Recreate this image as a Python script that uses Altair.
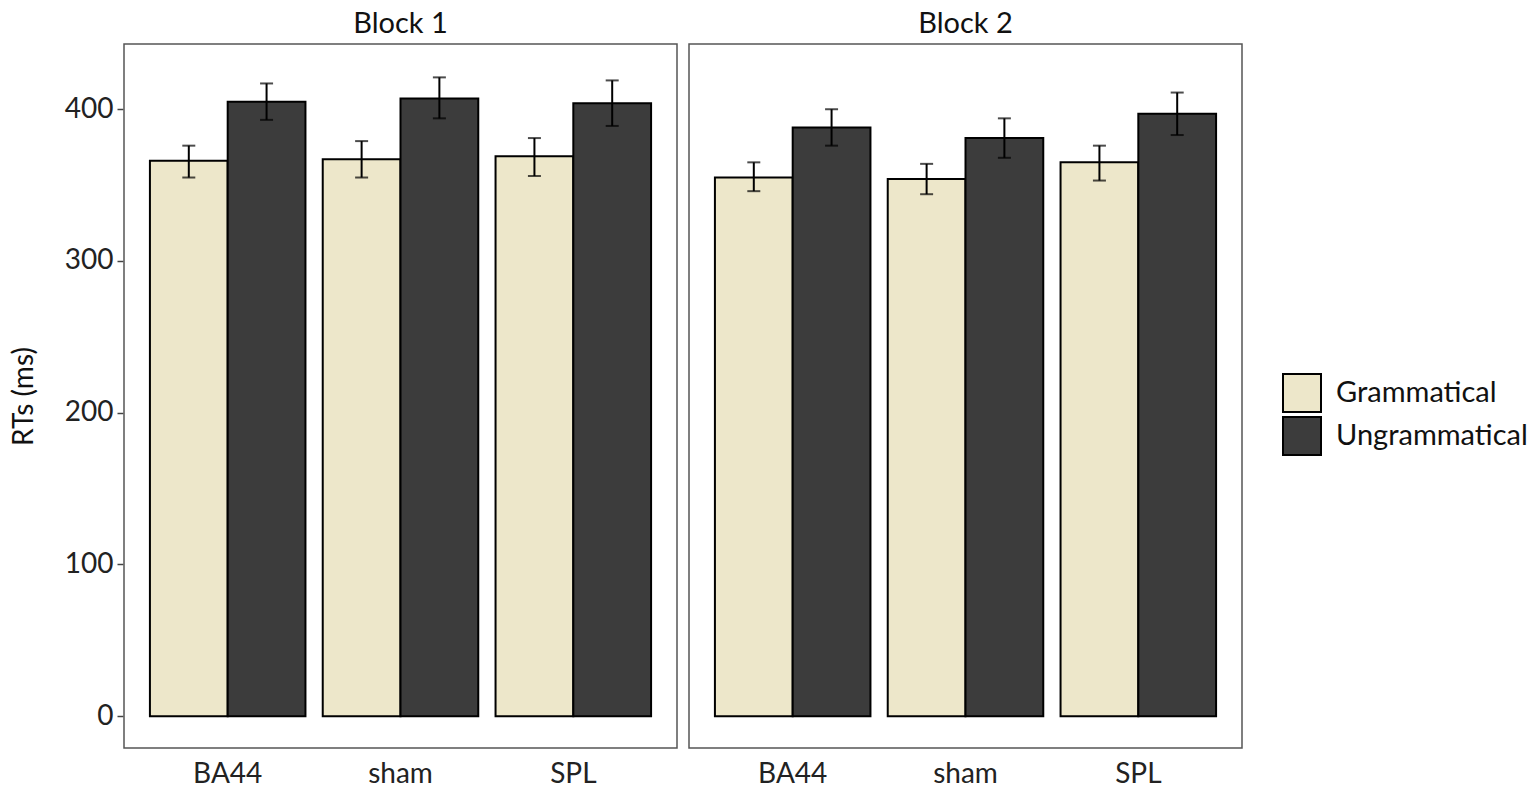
import altair as alt
import pandas as pd

blocks = ["Block 1"] * 6 + ["Block 2"] * 6
regions = ["BA44", "BA44", "sham", "sham", "SPL", "SPL"] * 2
conditions = ["Grammatical", "Ungrammatical"] * 6
means = [366, 405, 367, 407, 369, 404,
         355, 388, 354, 381, 365, 397]
lower = [355, 393, 355, 394, 356, 389,
         346, 376, 344, 368, 353, 383]
upper = [376, 417, 379, 421, 381, 419,
         365, 400, 364, 394, 376, 411]

df = pd.DataFrame({"block": blocks, "region": regions, "cond": conditions,
                   "rt": means, "lo": lower, "hi": upper})

FONT = "Lato"
x = alt.X("region:N", sort=["BA44", "sham", "SPL"], title=None,
          scale=alt.Scale(paddingInner=0.1, paddingOuter=0.15),
          axis=alt.Axis(ticks=False, domain=False, labelAngle=0, labelFontSize=28,
                        labelFont=FONT, labelColor="#222", labelPadding=11))
xoff = alt.XOffset("cond:N", sort=["Grammatical", "Ungrammatical"])
yscale = alt.Scale(domain=[-21, 443], nice=False, zero=False)

bars = alt.Chart().mark_bar(stroke="black", strokeWidth=2).encode(
    x=x, xOffset=xoff,
    y=alt.Y("rt:Q", scale=yscale, title="RTs (ms)",
            axis=alt.Axis(values=[0, 100, 200, 300, 400], grid=False, domain=False,
                          tickColor="#444", tickSize=6, tickWidth=1.5, labelPadding=4,
                          labelFontSize=28, labelFont=FONT,
                          labelColor="#222", titleFontSize=28, titleFont=FONT,
                          titleFontWeight="normal", titleColor="#111", titlePadding=26)),
    y2=alt.datum(0),
    fill=alt.Fill("cond:N", sort=["Grammatical", "Ungrammatical"],
                  scale=alt.Scale(domain=["Grammatical", "Ungrammatical"],
                                  range=["#EDE7CA", "#3C3C3C"]),
                  legend=alt.Legend(title=None, symbolType="square", symbolSize=1444,
                                    symbolStrokeColor="black", symbolStrokeWidth=2,
                                    symbolOpacity=1, labelFontSize=29, labelFont=FONT,
                                    labelColor="#111", rowPadding=-6, labelOffset=14,
                                    labelLimit=0,
                                    orient="none", legendX=1158, legendY=329)),
)

rules = alt.Chart().mark_rule(color="black", strokeWidth=2).encode(
    x=x, xOffset=xoff, y=alt.Y("lo:Q", scale=yscale), y2="hi:Q")
caps_lo = alt.Chart().mark_tick(color="black", thickness=2, size=13).encode(
    x=x, xOffset=xoff, y=alt.Y("lo:Q", scale=yscale))
caps_hi = alt.Chart().mark_tick(color="black", thickness=2, size=13).encode(
    x=x, xOffset=xoff, y=alt.Y("hi:Q", scale=yscale))

layer = alt.layer(bars, rules, caps_lo, caps_hi).properties(width=553, height=704)

chart = layer.facet(
    column=alt.Column("block:N", title=None,
                      header=alt.Header(labelFontSize=29, labelFont=FONT, labelColor="#111",
                                        labelPadding=4)),
    data=df, spacing=10,
).configure(
    padding={"left": 2, "top": 2, "right": 0, "bottom": 0}, background="white"
).configure_view(stroke="#555", strokeWidth=1.5)

chart.save("out.html", embed_options={"renderer": "svg", "actions": False})
